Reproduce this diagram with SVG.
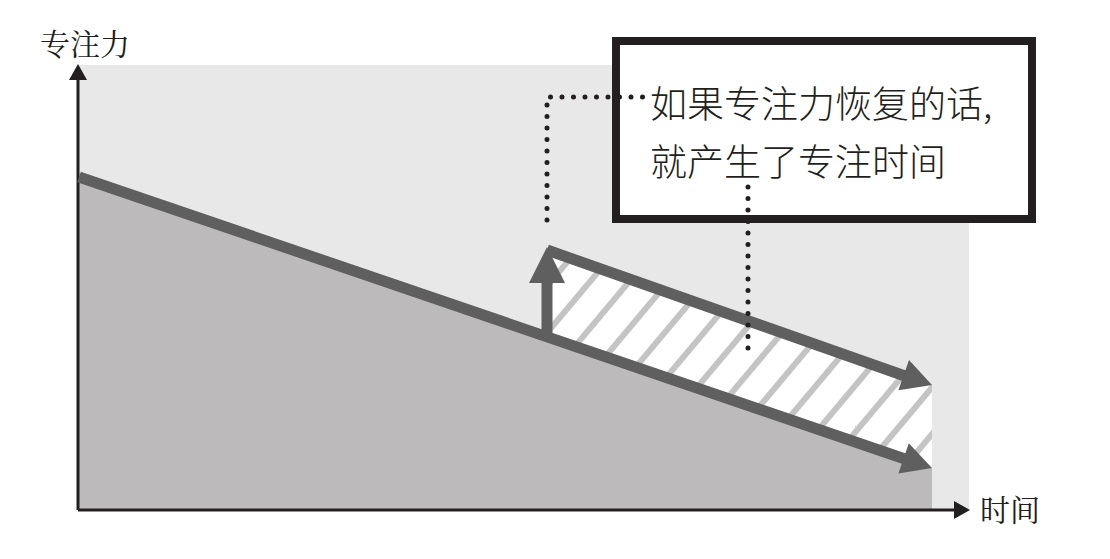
<svg xmlns="http://www.w3.org/2000/svg" width="1110" height="559" viewBox="0 0 1110 559">
<defs>
<pattern id="hatch" patternUnits="userSpaceOnUse" width="30" height="30" patternTransform="rotate(40)">
<rect width="30" height="30" fill="#fff"/>
<rect width="6" height="30" fill="#c4c4c4"/>
</pattern>
</defs>
<style>
.lbl{font-family:"Noto Sans CJK SC",sans-serif;font-weight:300;fill:#231f20}
.dot{stroke:#231f20;stroke-width:5;stroke-linecap:round;stroke-dasharray:0 11.5;fill:none}
.thick{stroke:#5f5f5f;stroke-width:11;fill:none}
.head{fill:#5f5f5f}
</style>
<rect x="79" y="65" width="890" height="444" fill="#e8e8e8"/>
<g id="area">
<polygon points="79,177 932,468 932,509 79,509" fill="#bcbabb"/>
<polygon points="547,250 932,385 932,468 547,337" fill="url(#hatch)"/>
</g>
<g id="box">
<rect x="616" y="41" width="416" height="178" fill="#fff" stroke="#231f20" stroke-width="8"/>
<text class="lbl" x="650" y="118" font-size="37">如果专注力恢复的话,</text>
<text class="lbl" x="650" y="176" font-size="37">就产生了专注时间</text>
</g>
<g id="connectors">
<line x1="78" y1="510" x2="78" y2="80" stroke="#231f20" stroke-width="3"/>
<polygon points="78,64 69,80 87,80" fill="#231f20"/>
<line x1="78" y1="510" x2="955" y2="510" stroke="#231f20" stroke-width="3"/>
<polygon points="970,510 954,501 954,519" fill="#231f20"/>
<line class="thick" x1="79" y1="177" x2="905" y2="459"/>
<polygon class="head" points="932,468 898.4,473.4 908.8,443.2"/>
<line class="thick" x1="547" y1="250" x2="905" y2="376"/>
<polygon class="head" points="932,385 898.4,390.2 909,360"/>
<line class="thick" x1="547" y1="337" x2="547" y2="280"/>
<polygon class="head" points="547,247 529,283 565,283"/>
<path class="dot" d="M547,220 L547,97 L648,97"/>
<path class="dot" d="M748,187 L748,352"/>
</g>
<g id="labels">
<text x="40" y="55" font-size="30" style="font-family:'Noto Serif CJK SC','Noto Sans CJK SC',serif;fill:#231f20">专注力</text>
<text x="980" y="521" font-size="30" style="font-family:'Noto Serif CJK SC','Noto Sans CJK SC',serif;fill:#231f20">时间</text>
</g>
</svg>
